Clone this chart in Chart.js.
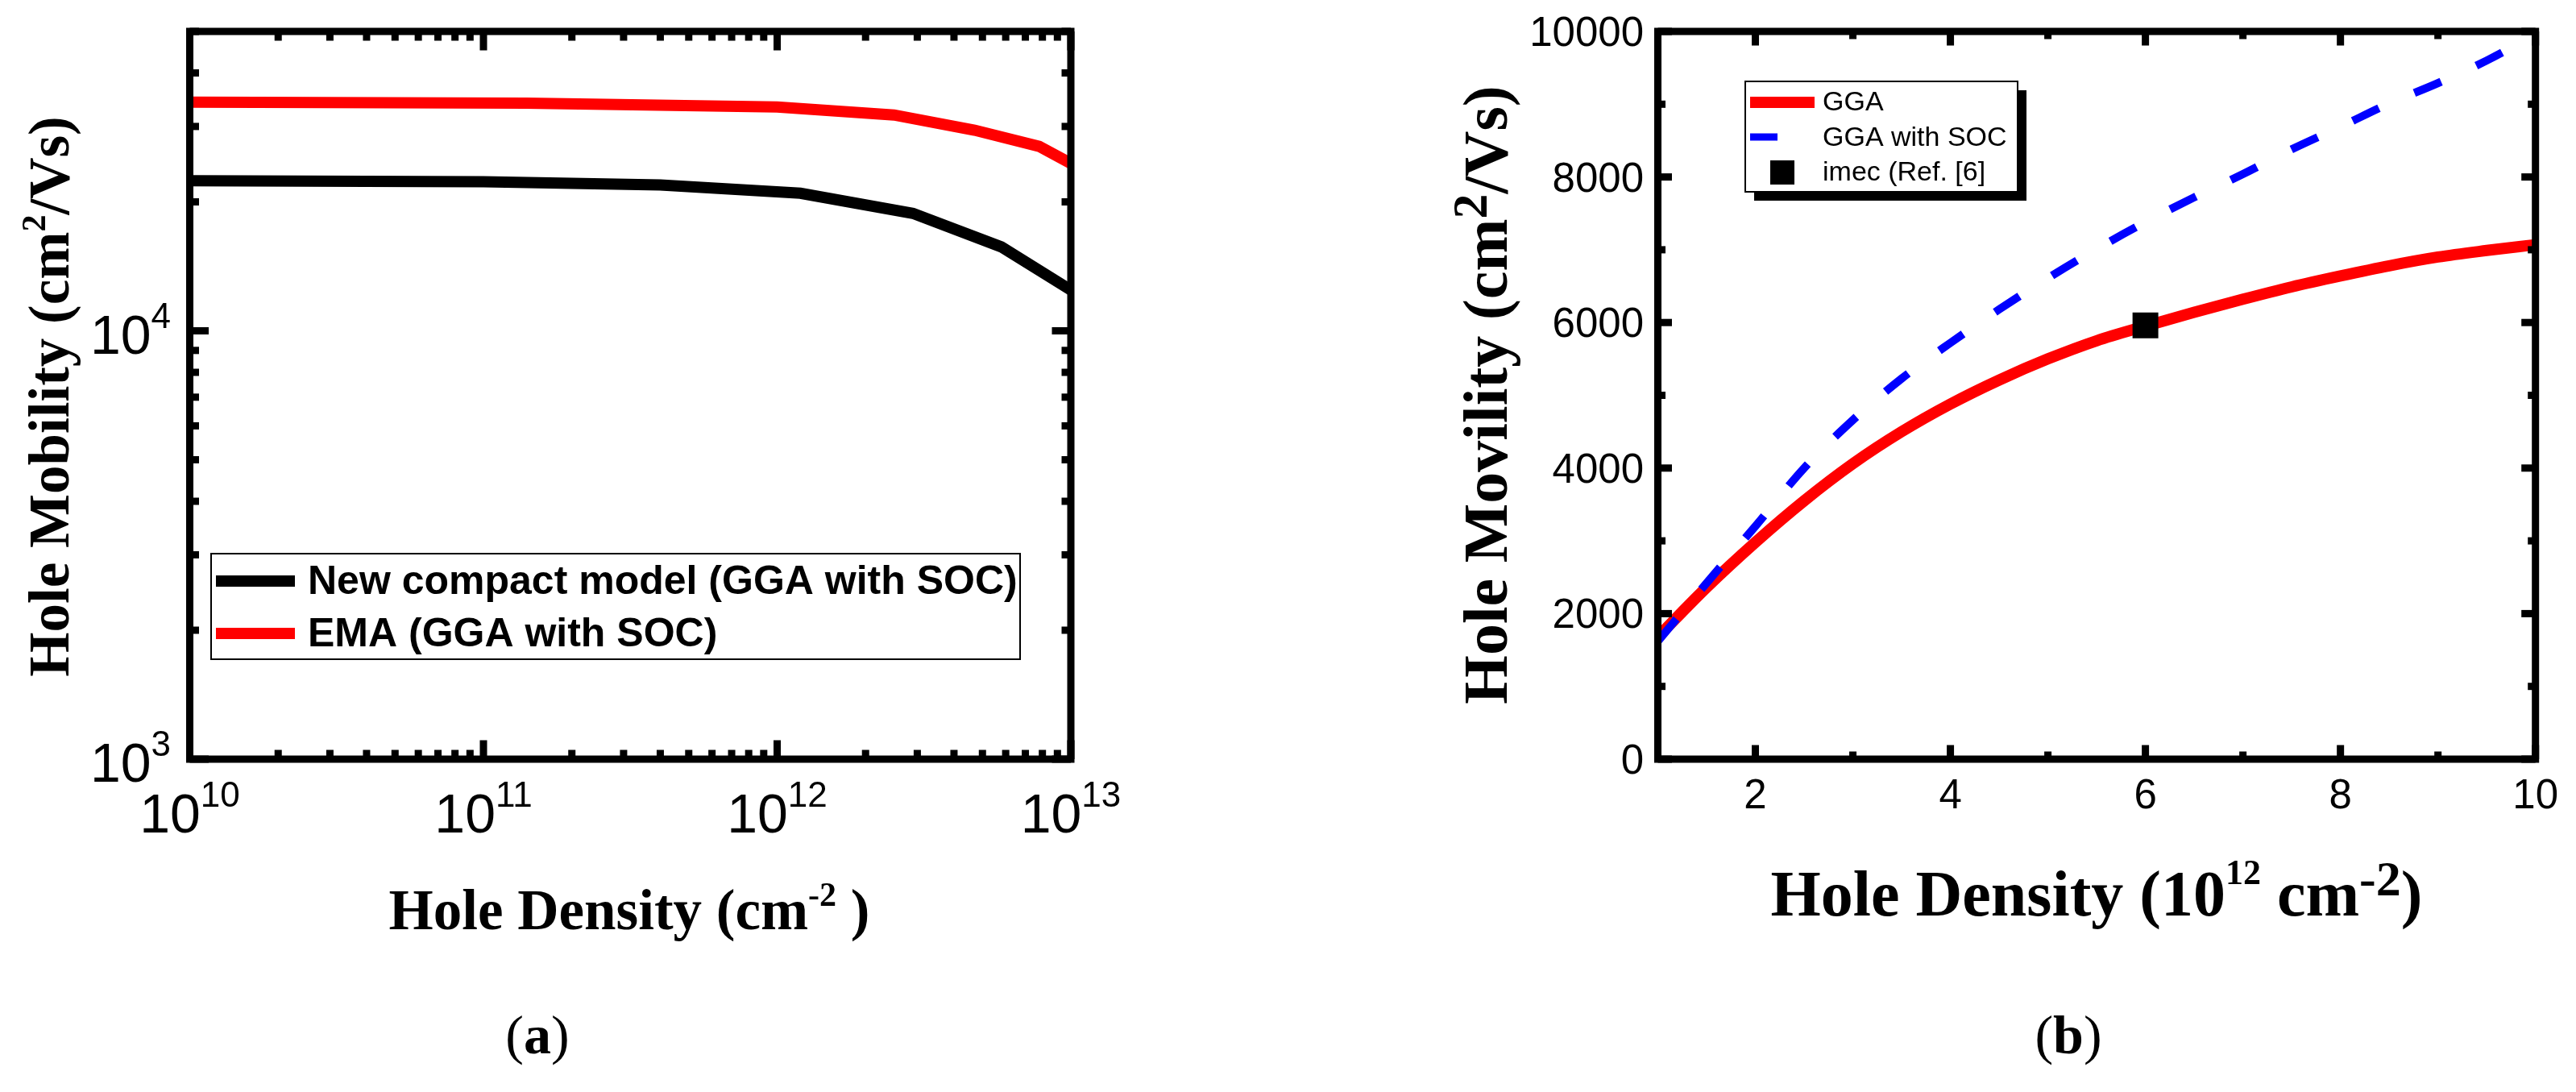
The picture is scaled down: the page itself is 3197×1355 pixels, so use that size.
<!DOCTYPE html>
<html>
<head>
<meta charset="utf-8">
<script src="https://cdn.jsdelivr.net/npm/chart.js@4.4.1/dist/chart.umd.min.js"></script>
<style>
html, body { margin: 0; padding: 0; background: #fff; width: 3197px; height: 1355px; overflow: hidden; }
canvas { position: absolute; top: 0; }
#chartA { left: 0; }
#chartB { left: 1560px; }
</style>
</head>
<body>
<canvas id="chartA" width="1560" height="1355"></canvas>
<canvas id="chartB" width="1637" height="1355"></canvas>
<script>
// ---- panel (a): log-log, hole mobility vs density ----
var densityCompact = [1e10, 1e11, 4e11, 1.2e12, 2.9e12, 5.8e12, 1e13];
var mobilityCompact = [22400, 22300, 21900, 20950, 18800, 15700, 12450];
var densityEma = [1e10, 1.4e11, 1e12, 2.5e12, 4.7e12, 7.8e12, 1e13];
var mobilityEma = [34200, 34000, 33300, 31900, 29400, 26950, 24600];
var xDecadesA = [1e10, 1e11, 1e12, 1e13];
var xLabelsA = [['10', '10'], ['10', '11'], ['10', '12'], ['10', '13']];
var yDecadesA = [1e3, 1e4];
var yLabelsA = [['10', '3'], ['10', '4']];

// ---- panel (b): linear, GGA vs GGA with SOC ----
var densityB = [1, 1.5, 2, 2.5, 3, 3.5, 4, 4.5, 5, 5.5, 6, 6.5, 7, 7.5, 8, 8.5, 9, 9.5, 10];
var mobilityGGA = [1680, 2360, 2980, 3550, 4060, 4500, 4880, 5210, 5500, 5750, 5950, 6140, 6320, 6490, 6640, 6780, 6900, 6990, 7070];
var mobilitySOC = [1620, 2420, 3200, 4000, 4660, 5230, 5720, 6180, 6610, 7010, 7380, 7720, 8040, 8380, 8690, 9010, 9290, 9600, 9960];
var imecDensity = [6];
var imecMobility = [5960];
var xTicksB = [2, 4, 6, 8, 10];
var xMinorB = [1, 3, 5, 7, 9];
var yTicksB = [0, 2000, 4000, 6000, 8000, 10000];
var yMinorB = [1000, 3000, 5000, 7000, 9000];

var SANS = '"Liberation Sans", Arial, sans-serif';
var SERIF = '"Liberation Serif", "Times New Roman", serif';

function pts(xs, ys) {
    return xs.map(function (x, i) { return { x: x, y: ys[i] }; });
}

function minorLog(decades, max) {
    var out = [];
    decades.forEach(function (d) {
        for (var k = 2; k <= 9; k++) { if (k * d <= max) out.push(k * d); }
    });
    return out;
}

// draws text pieces one after another, some raised as superscripts
function drawParts(ctx, parts, x, y, align) {
    var total = 0;
    parts.forEach(function (p) { ctx.font = p.font; p.w = ctx.measureText(p.text).width; total += p.w; });
    var cx = align === 'center' ? x - total / 2 : (align === 'right' ? x - total : x);
    ctx.textAlign = 'left';
    ctx.textBaseline = 'alphabetic';
    parts.forEach(function (p) {
        ctx.font = p.font;
        ctx.fillText(p.text, cx, y - (p.rise || 0));
        cx += p.w;
    });
}

function drawFrame(chart, o) {
    var ctx = chart.ctx, a = chart.chartArea, xs = chart.scales.x, ys = chart.scales.y;
    var h = o.axisWidth / 2;
    ctx.fillStyle = '#000';
    function xTick(v, len) {
        var p = xs.getPixelForValue(v);
        ctx.fillRect(p - h, a.bottom - len, o.axisWidth, len);
        ctx.fillRect(p - h, a.top, o.axisWidth, len);
    }
    function yTick(v, len) {
        var p = ys.getPixelForValue(v);
        ctx.fillRect(a.left, p - h, len, o.axisWidth);
        ctx.fillRect(a.right - len, p - h, len, o.axisWidth);
    }
    o.xMajor.forEach(function (v) { xTick(v, h + o.major); });
    o.xMinor.forEach(function (v) { xTick(v, h + o.minor); });
    o.yMajor.forEach(function (v) { yTick(v, h + o.major); });
    o.yMinor.forEach(function (v) { yTick(v, h + o.minor); });
    ctx.strokeStyle = '#000';
    ctx.lineWidth = o.axisWidth;
    ctx.strokeRect(a.left, a.top, a.right - a.left, a.bottom - a.top);
}

var panelA = {
    id: 'panelA',
    afterDraw: function (chart) {
        var ctx = chart.ctx, a = chart.chartArea, xs = chart.scales.x, ys = chart.scales.y;
        ctx.save();
        drawFrame(chart, {
            axisWidth: 9, major: 19, minor: 7,
            xMajor: xDecadesA, xMinor: minorLog(xDecadesA, 1e13),
            yMajor: yDecadesA, yMinor: minorLog(yDecadesA, 50000)
        });
        ctx.fillStyle = '#000';
        var base = '68px ' + SANS, sup = '44px ' + SANS;
        xDecadesA.forEach(function (v, i) {
            drawParts(ctx, [{ text: xLabelsA[i][0], font: base }, { text: xLabelsA[i][1], font: sup, rise: 32 }],
                xs.getPixelForValue(v), a.bottom + 91, 'center');
        });
        yDecadesA.forEach(function (v, i) {
            drawParts(ctx, [{ text: yLabelsA[i][0], font: base }, { text: yLabelsA[i][1], font: sup, rise: 32 }],
                a.left - 23.5, ys.getPixelForValue(v) + 28, 'right');
        });
        // axis titles
        var tf = 'bold 71px ' + SERIF, ts = 'bold 42px ' + SERIF;
        drawParts(ctx, [{ text: 'Hole Density (cm', font: tf }, { text: '-2', font: ts, rise: 29 }, { text: ' )', font: tf }],
            781, 1153, 'center');
        ctx.save();
        ctx.translate(85, 492);
        ctx.rotate(-Math.PI / 2);
        drawParts(ctx, [{ text: 'Hole Mobility (cm', font: tf }, { text: '2', font: ts, rise: 29 }, { text: '/Vs)', font: tf }],
            0, 0, 'center');
        ctx.restore();
        // legend
        ctx.lineWidth = 2;
        ctx.strokeStyle = '#000';
        ctx.strokeRect(262, 687, 1004, 131);
        var rows = [721, 786];
        chart.data.datasets.forEach(function (ds, i) {
            ctx.strokeStyle = ds.borderColor;
            ctx.lineWidth = 14;
            ctx.beginPath();
            ctx.moveTo(268, rows[i]);
            ctx.lineTo(366, rows[i]);
            ctx.stroke();
            ctx.fillStyle = '#000';
            ctx.font = 'bold 50px ' + SANS;
            ctx.textAlign = 'left';
            ctx.textBaseline = 'middle';
            ctx.fillText(ds.label, 382, rows[i] + 2);
        });
        // caption
        drawParts(ctx, [{ text: '(', font: '68px ' + SERIF }, { text: 'a', font: 'bold 68px ' + SERIF }, { text: ')', font: '68px ' + SERIF }],
            667, 1307, 'center');
        ctx.restore();
    }
};

var panelB = {
    id: 'panelB',
    afterDraw: function (chart) {
        var ctx = chart.ctx, a = chart.chartArea, xs = chart.scales.x, ys = chart.scales.y;
        ctx.save();
        drawFrame(chart, {
            axisWidth: 9, major: 13, minor: 5,
            xMajor: xTicksB, xMinor: xMinorB, yMajor: yTicksB, yMinor: yMinorB
        });
        ctx.fillStyle = '#000';
        ctx.font = '51px ' + SANS;
        ctx.textBaseline = 'alphabetic';
        ctx.textAlign = 'center';
        xTicksB.forEach(function (v) { ctx.fillText(String(v), xs.getPixelForValue(v), a.bottom + 61); });
        ctx.textAlign = 'right';
        yTicksB.forEach(function (v) { ctx.fillText(String(v), a.left - 17.5, ys.getPixelForValue(v) + 18); });
        // axis titles
        var tf = 'bold 80px ' + SERIF;
        drawParts(ctx, [
            { text: 'Hole Density (10', font: tf },
            { text: '12', font: 'bold 44px ' + SERIF, rise: 39 },
            { text: ' cm', font: tf },
            { text: '-2', font: 'bold 62px ' + SERIF, rise: 25 },
            { text: ')', font: tf }
        ], 1042, 1136, 'center');
        ctx.save();
        ctx.translate(310, 490);
        ctx.rotate(-Math.PI / 2);
        var yf = 'bold 78px ' + SERIF;
        drawParts(ctx, [{ text: 'Hole Movility (cm', font: yf }, { text: '2', font: 'bold 62px ' + SERIF, rise: 25 }, { text: '/Vs)', font: yf }],
            0, 0, 'center');
        ctx.restore();
        // legend with drop shadow
        var lx = 606, ly = 101, lw = 338, lh = 137;
        ctx.fillStyle = '#000';
        ctx.fillRect(lx + 11, ly + 11, lw, lh);
        ctx.fillStyle = '#fff';
        ctx.fillRect(lx, ly, lw, lh);
        ctx.strokeStyle = '#000';
        ctx.lineWidth = 2;
        ctx.strokeRect(lx, ly, lw, lh);
        var gga = chart.data.datasets[2], soc = chart.data.datasets[1], imec = chart.data.datasets[0];
        ctx.lineWidth = 14;
        ctx.strokeStyle = gga.borderColor;
        ctx.beginPath(); ctx.moveTo(612, 127); ctx.lineTo(692, 127); ctx.stroke();
        ctx.lineWidth = 9;
        ctx.strokeStyle = soc.borderColor;
        ctx.beginPath(); ctx.moveTo(612, 170); ctx.lineTo(646, 170); ctx.stroke();
        ctx.fillStyle = imec.backgroundColor;
        ctx.fillRect(637, 199, 30, 30);
        ctx.fillStyle = '#000';
        ctx.font = '34px ' + SANS;
        ctx.textAlign = 'left';
        ctx.textBaseline = 'middle';
        ctx.fillText(gga.label, 702, 128);
        ctx.fillText(soc.label, 702, 172);
        ctx.fillText(imec.label, 702, 215);
        drawParts(ctx, [{ text: '(', font: '68px ' + SERIF }, { text: 'b', font: 'bold 68px ' + SERIF }, { text: ')', font: '68px ' + SERIF }],
            1007, 1307, 'center');
        ctx.restore();
    }
};

new Chart(document.getElementById('chartA'), {
    type: 'line',
    data: {
        datasets: [
            {
                label: 'New compact model (GGA with SOC)',
                data: pts(densityCompact, mobilityCompact),
                borderColor: '#000000',
                borderWidth: 14,
                pointRadius: 0,
                tension: 0
            },
            {
                label: 'EMA (GGA with SOC)',
                data: pts(densityEma, mobilityEma),
                borderColor: '#ff0000',
                borderWidth: 14,
                pointRadius: 0,
                tension: 0
            }
        ]
    },
    options: {
        responsive: false,
        animation: false,
        devicePixelRatio: 1,
        layout: { padding: { left: 235.5, top: 39, right: 1560 - 1329, bottom: 1355 - 942 } },
        plugins: { legend: { display: false }, tooltip: { enabled: false } },
        scales: {
            x: { type: 'logarithmic', min: 1e10, max: 1e13, display: false },
            y: { type: 'logarithmic', min: 1000, max: 50000, display: false }
        }
    },
    plugins: [panelA]
});

new Chart(document.getElementById('chartB'), {
    type: 'line',
    data: {
        datasets: [
            {
                label: 'imec (Ref. [6]',
                data: pts(imecDensity, imecMobility),
                showLine: false,
                pointStyle: 'rect',
                pointRadius: 22.6,
                backgroundColor: '#000000',
                borderColor: '#000000',
                borderWidth: 0
            },
            {
                label: 'GGA with SOC',
                data: pts(densityB, mobilitySOC),
                borderColor: '#0000ff',
                borderWidth: 10,
                borderDash: [36, 48],
                pointRadius: 0,
                cubicInterpolationMode: 'monotone'
            },
            {
                label: 'GGA',
                data: pts(densityB, mobilityGGA),
                borderColor: '#ff0000',
                borderWidth: 14,
                pointRadius: 0,
                cubicInterpolationMode: 'monotone'
            }
        ]
    },
    options: {
        responsive: false,
        animation: false,
        devicePixelRatio: 1,
        layout: { padding: { left: 2057.5 - 1560, top: 39, right: 1637 - (3146.7 - 1560), bottom: 1355 - 942 } },
        plugins: { legend: { display: false }, tooltip: { enabled: false } },
        scales: {
            x: { type: 'linear', min: 1, max: 10, display: false },
            y: { type: 'linear', min: 0, max: 10000, display: false }
        }
    },
    plugins: [panelB]
});
</script>
</body>
</html>
